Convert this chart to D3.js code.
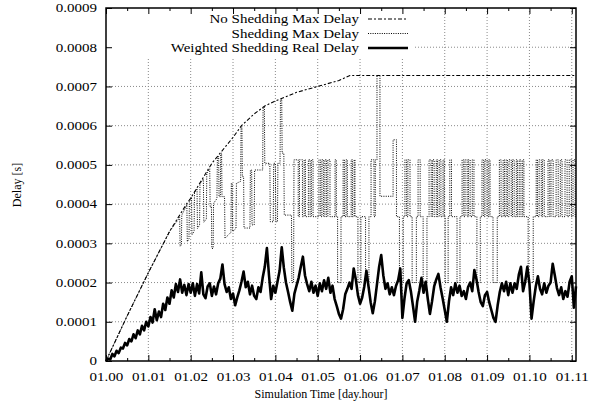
<!DOCTYPE html>
<html>
<head>
<meta charset="utf-8">
<script src="https://cdn.jsdelivr.net/npm/d3@7"></script>
<style>
  body { margin: 0; background: #fff; }
  text { font-family: "Liberation Serif", "Times New Roman", serif; fill: #000; }
</style>
</head>
<body>
<svg id="chart" width="596" height="409"></svg>
<script>
// ---- axis ticks ----
const hourTicks = [0, 1, 2, 3, 4, 5, 6, 7, 8, 9, 10, 11];
const hourLabels = ["01.00", "01.01", "01.02", "01.03", "01.04", "01.05", "01.06", "01.07", "01.08", "01.09", "01.10", "01.11"];
const minorHours = [0.5, 1.5, 2.5, 3.5, 4.5, 5.5, 6.5, 7.5, 8.5, 9.5, 10.5];
const delayTicks = [0, 0.0001, 0.0002, 0.0003, 0.0004, 0.0005, 0.0006, 0.0007, 0.0008, 0.0009];
const delayLabels = ["0", "0.0001", "0.0002", "0.0003", "0.0004", "0.0005", "0.0006", "0.0007", "0.0008", "0.0009"];

const seriesNames = ["No Shedding Max Delay", "Shedding Max Delay", "Weighted Shedding Real Delay"];

// ---- No shedding: maximum delay (hours, microseconds) ----
const noShedHours = [0, 0.5, 1.0, 1.5, 1.9, 2.0, 2.5, 3.0, 3.2, 3.5, 3.75, 4.0, 4.5, 5.0, 5.5, 5.76, 11.1];
const noShedUs    = [0, 115, 225, 330, 400, 415, 504, 570, 600, 630, 650, 663, 685, 700, 715, 728, 728];

// ---- Shedding: maximum delay, [hours, microseconds] ----
const shedMaxPoints = [
  [0,0],[0.5,115],[1.0,225],[1.5,330],[1.74,366],
  [1.75,292],[1.78,296],[1.79,372],
  [1.91,398],[1.92,304],[1.96,312],[1.97,410],
  [2.02,418],[2.03,322],[2.08,330],[2.09,430],
  [2.15,440],[2.16,338],[2.21,346],[2.22,452],
  [2.30,464],[2.31,354],[2.37,362],[2.38,478],
  [2.45,490],[2.46,392],[2.49,395],[2.50,287],[2.53,287],[2.54,402],
  [2.62,414],[2.63,516],[2.66,522],[2.67,419],[2.70,419],[2.71,528],[2.73,530],[2.74,419],[2.80,419],[2.81,313],
  [2.95,328],[2.96,453],[2.98,453],[2.99,330],[3.07,338],[3.08,453],[3.18,458],[3.19,594],[3.21,597],[3.22,470],[3.25,470],[3.26,339],
  [3.40,339],[3.41,487],[3.44,487],[3.45,347],[3.50,347],[3.51,487],[3.70,487],[3.71,645],[3.74,648],[3.75,504],
  [3.87,504],[3.88,355],[3.95,355],[3.96,504],[4.00,504],[4.01,355],[4.05,355],[4.06,504],[4.11,504],[4.12,666],[4.15,668],[4.16,530],
  [4.20,530],[4.21,372],[4.38,372],[4.39,200],[4.43,200],[4.44,513],
  [4.54,513],[4.54,368],[4.57,368],[4.57,513],[4.64,513],[4.64,368],[4.68,368],[4.68,513],[4.71,513],[4.71,368],
  [4.78,368],[4.78,513],[4.82,513],[4.82,368],[4.85,368],[4.85,513],[4.89,513],[4.89,368],[5.03,368],[5.03,513],
  [5.07,513],[5.07,368],[5.10,368],[5.10,513],[5.14,513],[5.14,368],[5.17,368],[5.17,513],[5.21,513],[5.21,368],
  [5.24,368],[5.24,513],[5.29,513],[5.29,368],[5.41,368],[5.41,513],[5.44,513],[5.44,368],[5.47,368],[5.47,200],
  [5.55,200],[5.55,368],[5.60,368],[5.60,513],[5.63,513],[5.63,368],[5.67,368],[5.67,513],[5.70,513],[5.70,368],
  [5.79,368],[5.79,513],[5.82,513],[5.82,368],[5.86,368],[5.86,513],[5.88,513],[5.88,368],[5.95,368],[5.95,200],
  [6.02,200],[6.02,368],[6.13,368],[6.13,200],[6.21,200],[6.21,368],[6.26,368],[6.26,513],[6.33,513],[6.33,368],
  [6.36,368],[6.36,513],[6.40,513],[6.40,728],[6.47,728],[6.47,420],[6.78,420],[6.78,564],[6.86,564],[6.86,368],
  [6.93,368],[6.93,200],[7.02,200],[7.02,368],[7.06,368],[7.06,513],[7.10,513],[7.10,368],[7.13,368],[7.13,513],
  [7.18,513],[7.18,368],[7.23,368],[7.23,200],[7.33,200],[7.33,368],[7.37,368],[7.37,513],[7.42,513],[7.42,368],
  [7.49,368],[7.49,200],[7.58,200],[7.58,368],[7.63,368],[7.63,513],[7.68,513],[7.68,368],[7.71,368],[7.71,513],
  [7.75,513],[7.75,368],[7.80,368],[7.80,513],[7.83,513],[7.83,368],[7.87,368],[7.87,513],[7.91,513],[7.91,368],
  [7.96,368],[7.96,513],[7.99,513],[7.99,368],[8.01,368],[8.01,200],[8.08,200],[8.08,368],[8.12,368],[8.12,513],
  [8.16,513],[8.16,368],[8.29,368],[8.29,200],[8.36,200],[8.36,368],[8.41,368],[8.41,513],[8.45,513],[8.45,368],
  [8.48,368],[8.48,513],[8.53,513],[8.53,368],[8.56,368],[8.56,513],[8.60,513],[8.60,368],[8.65,368],[8.65,513],
  [8.69,513],[8.69,368],[8.76,368],[8.76,200],[8.84,200],[8.84,368],[8.88,368],[8.88,513],[8.92,513],[8.92,368],
  [8.95,368],[8.95,513],[9.00,513],[9.00,368],[9.04,368],[9.04,513],[9.07,513],[9.07,368],[9.14,368],[9.14,200],
  [9.24,200],[9.24,368],[9.29,368],[9.29,513],[9.33,513],[9.33,368],[9.38,368],[9.38,513],[9.41,513],[9.41,368],
  [9.45,368],[9.45,513],[9.48,513],[9.48,368],[9.52,368],[9.52,513],[9.57,513],[9.57,368],[9.60,368],[9.60,513],
  [9.64,513],[9.64,368],[9.69,368],[9.69,513],[9.72,513],[9.72,368],[9.76,368],[9.76,513],[9.80,513],[9.80,368],
  [9.84,368],[9.84,513],[9.87,513],[9.87,368],[9.97,368],[9.97,200],[10.09,200],[10.09,368],[10.16,368],[10.16,513],
  [10.19,513],[10.19,368],[10.23,368],[10.23,513],[10.28,513],[10.28,368],[10.31,368],[10.31,513],[10.35,513],[10.35,368],
  [10.44,368],[10.44,513],[10.48,513],[10.48,368],[10.51,368],[10.51,513],[10.56,513],[10.56,368],[10.63,368],[10.63,513],
  [10.68,513],[10.68,368],[10.73,368],[10.73,513],[10.77,513],[10.77,368],[10.84,368],[10.84,513],[10.89,513],[10.89,368],
  [10.94,368],[10.94,513],[10.99,513],[10.99,368],[11.03,368],[11.03,513],[11.08,513],[11.08,368],[11.1,368]
];

// ---- Weighted shedding: real delay, sampled every 0.05 h (microseconds) ----
const realStepHours = 0.05;
const realUs = [
  0, 6, 4, 18, 12, 26, 20, 34, 32, 46,
  40, 56, 50, 68, 58, 78, 68, 90, 78, 100,
  88, 112, 98, 132, 104, 126, 112, 146, 130, 162,
  146, 180, 162, 196, 176, 208, 174, 194, 168, 196,
  174, 198, 166, 196, 172, 226, 170, 160, 190, 198,
  166, 190, 170, 198, 210, 246, 196, 176, 188, 158,
  172, 142, 162, 180, 202, 228, 188, 202, 170, 192,
  166, 158, 188, 176, 212, 240, 288, 218, 158, 192,
  174, 202, 230, 290, 238, 200, 176, 150, 128, 172,
  192, 212, 240, 266, 218, 196, 178, 202, 174, 192,
  166, 198, 178, 206, 184, 212, 174, 192, 158, 140,
  120, 108, 132, 170, 184, 200, 184, 236, 208, 168,
  146, 162, 190, 230, 190, 150, 122, 152, 196, 240,
  270, 218, 184, 198, 170, 188, 168, 192, 206, 236,
  110, 160, 198, 206, 178, 140, 100, 152, 180, 212,
  174, 202, 158, 120, 152, 190, 208, 222, 188, 160,
  130, 100, 152, 188, 168, 198, 174, 192, 166, 178,
  158, 188, 200, 178, 232, 208, 176, 150, 140, 168,
  176, 150, 130, 110, 100, 142, 176, 198, 178, 202,
  168, 198, 174, 198, 184, 220, 240, 178, 202, 240,
  198, 108, 152, 190, 216, 184, 170, 198, 174, 192,
  200, 248, 218, 186, 168, 188, 158, 178, 164, 202,
  216, 136, 190
];

// ---- layout ----
const svg = d3.select("#chart");
const plotLeft = 106, plotRight = 576, plotTop = 8, plotBottom = 361;
const x = d3.scaleLinear().domain([0, 11.1]).range([plotLeft, plotRight]);
const y = d3.scaleLinear().domain([0, 0.0009]).range([plotBottom, plotTop]);
const usToS = v => v * 1e-6;
const labelStretch = 1.25;

// grid
const grid = svg.append("g")
  .attr("stroke", "#8a8a8a").attr("stroke-width", 1).attr("stroke-dasharray", "1,2");
grid.selectAll("line.gx").data(hourTicks.slice(1)).join("line")
  .attr("x1", d => x(d)).attr("x2", d => x(d)).attr("y1", plotTop).attr("y2", plotBottom);
grid.selectAll("line.gy").data(delayTicks.slice(1, -1)).join("line")
  .attr("x1", plotLeft).attr("x2", plotRight).attr("y1", d => y(d)).attr("y2", d => y(d));

// opaque key background
svg.append("rect").attr("x", plotLeft + 1).attr("y", plotTop + 1)
  .attr("width", 413 - plotLeft).attr("height", 57 - plotTop)
  .attr("fill", "#fff");

// series
const plot = svg.append("g");
const delayLine = d3.line().x(d => x(d[0])).y(d => y(usToS(d[1])));
plot.append("path")
  .datum(noShedHours.map((h, i) => [h, noShedUs[i]]))
  .attr("d", delayLine)
  .attr("fill", "none").attr("stroke", "#000").attr("stroke-width", 1.1)
  .attr("stroke-dasharray", "4,2,2,2");

plot.append("path")
  .datum(shedMaxPoints)
  .attr("d", delayLine)
  .attr("fill", "none").attr("stroke", "#000").attr("stroke-width", 1)
  .attr("stroke-dasharray", "1,1.3");

plot.append("path")
  .datum(realUs.map((v, i) => [i * realStepHours, v]))
  .attr("d", delayLine)
  .attr("fill", "none").attr("stroke", "#000").attr("stroke-width", 2.6)
  .attr("stroke-linejoin", "round");

// axes (ticks point inward)
function styleAxis(g) {
  g.select(".domain").remove();
  g.selectAll(".tick line").attr("stroke", "#000").attr("stroke-width", 1);
  g.selectAll(".tick text").attr("font-size", 12)
    .attr("font-family", "Liberation Serif, Times New Roman, serif");
}
const bottomAxis = svg.append("g").attr("transform", `translate(0,${plotBottom})`)
  .call(d3.axisBottom(x).tickValues(hourTicks).tickFormat((d, i) => hourLabels[i]).tickSize(-6).tickPadding(11))
  .call(styleAxis);
bottomAxis.selectAll(".tick text").attr("transform", `scale(${labelStretch},1)`);
svg.append("g").attr("transform", `translate(0,${plotBottom})`)
  .call(d3.axisBottom(x).tickValues(minorHours).tickFormat("").tickSize(-3)).call(styleAxis);
svg.append("g").attr("transform", `translate(0,${plotTop})`)
  .call(d3.axisTop(x).tickValues(hourTicks).tickFormat("").tickSize(-6)).call(styleAxis);
svg.append("g").attr("transform", `translate(0,${plotTop})`)
  .call(d3.axisTop(x).tickValues(minorHours).tickFormat("").tickSize(-3)).call(styleAxis);
const leftAxis = svg.append("g").attr("transform", `translate(${plotLeft},0)`)
  .call(d3.axisLeft(y).tickValues(delayTicks).tickFormat((d, i) => delayLabels[i]).tickSize(-6).tickPadding(9))
  .call(styleAxis);
leftAxis.selectAll(".tick text")
  .attr("x", -9 / labelStretch)
  .attr("transform", `scale(${labelStretch},1)`);
svg.append("g").attr("transform", `translate(${plotRight},0)`)
  .call(d3.axisRight(y).tickValues(delayTicks).tickFormat("").tickSize(-6)).call(styleAxis);

// border
svg.append("rect").attr("x", plotLeft).attr("y", plotTop)
  .attr("width", plotRight - plotLeft).attr("height", plotBottom - plotTop)
  .attr("fill", "none").attr("stroke", "#000").attr("stroke-width", 1.5);

// axis titles
svg.append("text").attr("x", 321).attr("y", 398).attr("text-anchor", "middle").attr("font-size", 12)
  .text("Simulation Time [day.hour]");
svg.append("text").attr("transform", "translate(21,185) rotate(-90)").attr("text-anchor", "middle")
  .attr("font-size", 12).text("Delay [s]");

// key
const keyRows = [19, 33.5, 48];
const keyStyles = [
  { width: 1.1, dash: "4,2,2,2" },
  { width: 1, dash: "1,1.3" },
  { width: 2.6, dash: null }
];
const key = svg.append("g");
seriesNames.forEach((name, i) => {
  key.append("g").attr("transform", `translate(359,${keyRows[i]}) scale(${labelStretch},1)`)
    .append("text").attr("text-anchor", "end").attr("dy", "0.35em").attr("font-size", 12).text(name);
  key.append("line").attr("x1", 368).attr("x2", 408).attr("y1", keyRows[i]).attr("y2", keyRows[i])
    .attr("stroke", "#000").attr("stroke-width", keyStyles[i].width)
    .attr("stroke-dasharray", keyStyles[i].dash);
});
</script>
</body>
</html>
